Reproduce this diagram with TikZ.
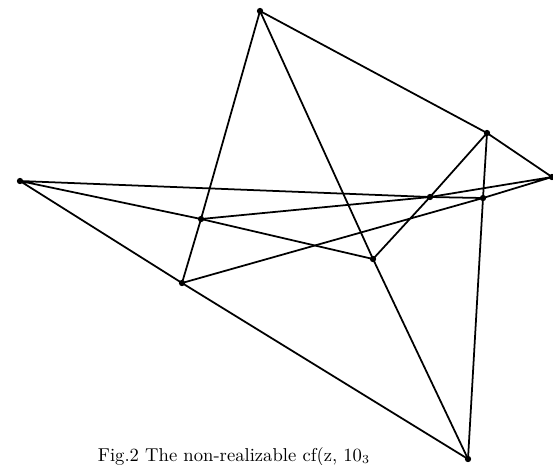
\documentclass[tikz,border=0pt]{standalone}
\begin{document}
\begin{tikzpicture}[x=.02cm, y=-.02cm, line width=1pt, every node/.style={font=\fontsize{10.6}{12}\selectfont}]
  \useasboundingbox (0,0) rectangle (553,464);
  \coordinate (T) at (260,11);
  \coordinate (L) at (20,181);
  \coordinate (R) at (487,133);
  \coordinate (F) at (552,177);
  \coordinate (A) at (201,219);
  \coordinate (B) at (182,283);
  \coordinate (C) at (373,259);
  \coordinate (D) at (430,197);
  \coordinate (E) at (483,198);
  \coordinate (G) at (468,459);
  \draw (T)--(A)--(B) (T)--(C)--(G) (T)--(R)--(F);
  \draw (L)--(A)--(C) (L)--(D)--(E) (L)--(B)--(G);
  \draw (A)--(D)--(F) (B)--(E)--(F) (C)--(D)--(R) (R)--(E)--(G);
  \foreach \p in {T,L,R,F,A,B,C,D,E,G}
    \fill (\p) circle (1.8pt);
  \node[anchor=base west, inner sep=0pt] (cap) at (97,461) {Fig.2 The non-realizable cf(z, 10$_3$};
\end{tikzpicture}
\end{document}
